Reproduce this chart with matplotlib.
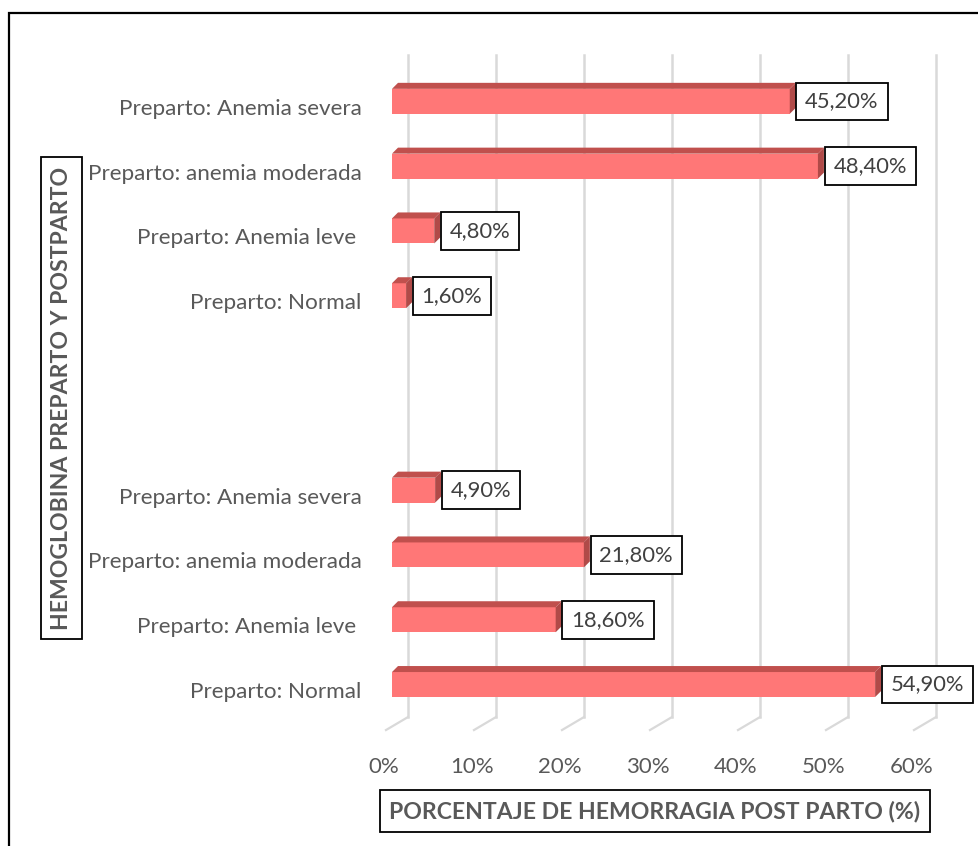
import matplotlib
matplotlib.use("Agg")
import matplotlib.pyplot as plt
from matplotlib.patches import Polygon, Rectangle

plt.rcParams['font.family'] = ['Lato', 'DejaVu Sans']

# data (bottom to top), two empty slots between the groups
labels = ['Preparto: Normal', 'Preparto: Anemia leve ', 'Preparto: anemia moderada',
          'Preparto: Anemia severa', '', '',
          'Preparto: Normal', 'Preparto: Anemia leve ', 'Preparto: anemia moderada',
          'Preparto: Anemia severa']
values = [54.9, 18.6, 21.8, 4.9, None, None, 1.6, 4.8, 48.4, 45.2]
value_text = ['54,90%', '18,60%', '21,80%', '4,90%', '', '', '1,60%', '4,80%', '48,40%', '45,20%']
xticks = [0, 10, 20, 30, 40, 50, 60]
xtick_labels = ['0%', '10%', '20%', '30%', '40%', '50%', '60%']

W, H = 979, 846
fig = plt.figure(figsize=(W / 100, H / 100), dpi=100)

x0, x1 = -4, 63
y0, y1 = -0.7, 9.8
ax_l, ax_r, ax_t, ax_b = 372.8, 962.4, 55.0, 735.4
ax = fig.add_axes([ax_l / W, (H - ax_b) / H, (ax_r - ax_l) / W, (ax_b - ax_t) / H])
ax.set_xlim(x0, x1)
ax.set_ylim(y0, y1)
kx = (ax_r - ax_l) / (x1 - x0)   # px per unit
ky = (ax_b - ax_t) / (y1 - y0)
for s in ax.spines.values():
    s.set_visible(False)
ax.set_xticks([])
ax.set_yticks(range(len(labels)))
ax.set_yticklabels(labels, fontsize=16.2, color='#595959')
ax.tick_params(axis='y', length=0, pad=8)

grid_c = '#D9D9D9'
floor_y = (690 - 717) / 64.8   # back edge of floor
for t, lab in zip(xticks, xtick_labels):
    ax.plot([t, t], [floor_y, y1], color=grid_c, lw=1.8, zorder=1, clip_on=False)
    ax.plot([t, t - 22 / kx], [floor_y, floor_y - 13 / ky], color=grid_c, lw=1.6,
            zorder=1, clip_on=False)
    ax.text(t - 24 / kx, (690 - 767) / 64.8, lab, ha='center', va='center',
            fontsize=16, color='#595959', clip_on=False)

# 3D-ish bars
fx = -16 / kx        # front face shift
fy = 5.5 / ky
dx = 6 / kx          # depth
dy = 6 / ky
h = 25 / ky
front_c, top_c, side_c = '#FF7777', '#C0504D', '#B04A48'
for i, v in enumerate(values):
    if v is None:
        continue
    yb = i + fy - h / 2
    yt = i + fy + h / 2
    ax.barh(i + fy, v, height=h, left=fx, color=front_c, zorder=3, linewidth=0)
    ax.add_patch(Polygon([(fx, yt), (fx + v, yt), (fx + v + dx, yt + dy), (fx + dx, yt + dy)],
                         closed=True, color=top_c, zorder=3, lw=0))
    ax.add_patch(Polygon([(fx + v, yb), (fx + v + dx, yb + dy), (fx + v + dx, yt + dy), (fx + v, yt)],
                         closed=True, color=side_c, zorder=3, lw=0))
    ax.text(fx + v + dx + 9.5 / kx, i + fy, value_text[i], ha='left', va='center',
            fontsize=15.8, color='#404040', zorder=5,
            bbox=dict(boxstyle='square,pad=0.4', fc='white', ec='black', lw=1.3))

# axis titles
fig.text(655 / W, 1 - 811 / H, 'PORCENTAJE DE HEMORRAGIA POST PARTO (%)', ha='center', va='center',
         fontsize=16.6, fontweight='bold', color='#595959',
         bbox=dict(boxstyle='square,pad=0.42', fc='white', ec='black', lw=1.3))
fig.text(61.5 / W, 1 - 398 / H, 'HEMOGLOBINA PREPARTO Y POSTPARTO', ha='center', va='center',
         rotation=90, fontsize=16.6, fontweight='bold', color='#595959',
         bbox=dict(boxstyle='square,pad=0.42', fc='white', ec='black', lw=1.3))

# outer frame
fig.patches.append(Rectangle((9 / W, -0.1), 1.2, 1.1 - 13 / H, transform=fig.transFigure,
                             fill=False, ec='black', lw=1.6, figure=fig))

fig.savefig('out.png', dpi=100)
